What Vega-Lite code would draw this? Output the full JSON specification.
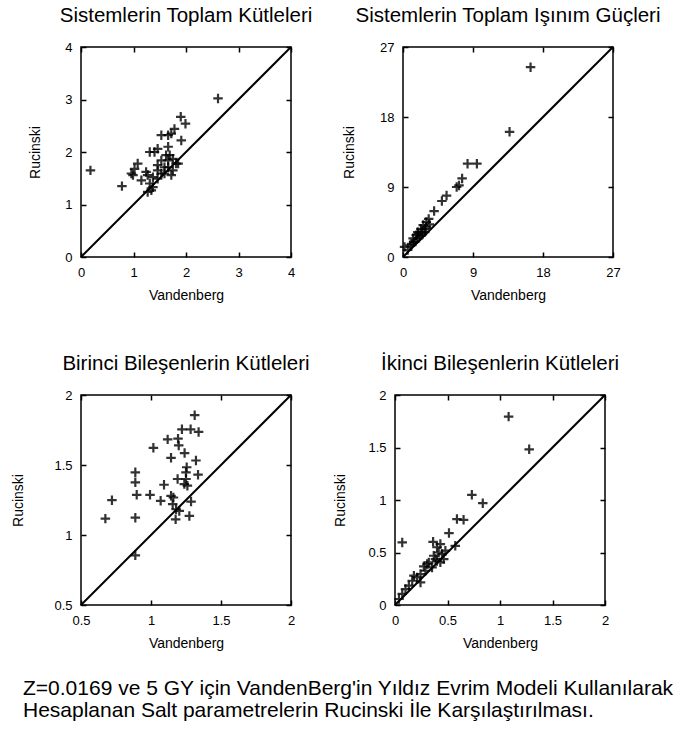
{
  "$schema": "https://vega.github.io/schema/vega-lite/v6.json",
  "background": "white",
  "padding": {"left": 11, "top": 4, "right": 0, "bottom": 0},
  "title": {
    "text": ["Z=0.0169 ve 5 GY için VandenBerg'in Yıldız Evrim Modeli Kullanılarak", "Hesaplanan Salt parametrelerin Rucinski İle Karşılaştırılması."],
    "orient": "bottom",
    "anchor": "start",
    "frame": "group",
    "fontSize": 21,
    "lineHeight": 22,
    "offset": 27,
    "dx": -58
  },
  "datasets": {
    "toplamKutle": [
      {"v": 0.18, "r": 1.65}, {"v": 0.78, "r": 1.35}, {"v": 2.61, "r": 3.02}, {"v": 1.9, "r": 2.67},
      {"v": 1.99, "r": 2.54}, {"v": 1.91, "r": 2.22}, {"v": 1.66, "r": 2.32}, {"v": 1.72, "r": 2.35},
      {"v": 1.53, "r": 2.32}, {"v": 1.78, "r": 2.44}, {"v": 1.46, "r": 2.06}, {"v": 1.31, "r": 2.0},
      {"v": 1.4, "r": 2.0}, {"v": 1.66, "r": 2.1}, {"v": 1.62, "r": 1.94}, {"v": 1.69, "r": 1.94},
      {"v": 1.53, "r": 1.84}, {"v": 1.66, "r": 1.84}, {"v": 1.75, "r": 1.87}, {"v": 1.46, "r": 1.75},
      {"v": 1.59, "r": 1.71}, {"v": 1.08, "r": 1.78}, {"v": 1.02, "r": 1.68}, {"v": 0.96, "r": 1.59},
      {"v": 0.99, "r": 1.56}, {"v": 1.15, "r": 1.46}, {"v": 1.24, "r": 1.62}, {"v": 1.27, "r": 1.56},
      {"v": 1.37, "r": 1.52}, {"v": 1.46, "r": 1.49}, {"v": 1.31, "r": 1.4}, {"v": 1.37, "r": 1.33},
      {"v": 1.34, "r": 1.27}, {"v": 1.27, "r": 1.24}, {"v": 1.72, "r": 1.56}, {"v": 1.75, "r": 1.65},
      {"v": 1.85, "r": 1.78}, {"v": 1.53, "r": 1.59}, {"v": 1.66, "r": 1.71}, {"v": 1.59, "r": 1.59},
      {"v": 1.46, "r": 1.65}, {"v": 1.81, "r": 1.78}
    ],
    "isinimGucu": [
      {"v": 16.4, "r": 24.4}, {"v": 13.7, "r": 16.1}, {"v": 8.3, "r": 12.0}, {"v": 9.5, "r": 12.0},
      {"v": 7.6, "r": 10.1}, {"v": 6.9, "r": 9.0}, {"v": 7.2, "r": 9.2}, {"v": 5.6, "r": 7.9},
      {"v": 5.0, "r": 7.2}, {"v": 4.0, "r": 5.9}, {"v": 3.3, "r": 4.9}, {"v": 3.0, "r": 4.5},
      {"v": 2.6, "r": 4.1}, {"v": 2.3, "r": 3.6}, {"v": 2.8, "r": 3.6}, {"v": 1.9, "r": 3.2},
      {"v": 2.4, "r": 3.2}, {"v": 1.7, "r": 2.8}, {"v": 2.2, "r": 2.7}, {"v": 1.3, "r": 2.4},
      {"v": 1.6, "r": 2.0}, {"v": 1.1, "r": 1.7}, {"v": 0.9, "r": 1.5}, {"v": 0.2, "r": 1.3},
      {"v": 0.6, "r": 0.9}, {"v": 2.8, "r": 3.2}, {"v": 3.0, "r": 3.9}, {"v": 1.9, "r": 2.4},
      {"v": 2.0, "r": 3.0}, {"v": 2.5, "r": 2.9}, {"v": 1.4, "r": 1.9}, {"v": 3.4, "r": 4.2}
    ],
    "birinciKutle": [
      {"v": 1.312, "r": 1.856}, {"v": 1.221, "r": 1.755}, {"v": 1.283, "r": 1.755}, {"v": 1.34, "r": 1.736},
      {"v": 1.119, "r": 1.683}, {"v": 1.193, "r": 1.688}, {"v": 1.198, "r": 1.64}, {"v": 1.017, "r": 1.623},
      {"v": 1.24, "r": 1.585}, {"v": 1.143, "r": 1.551}, {"v": 1.321, "r": 1.532}, {"v": 1.255, "r": 1.484},
      {"v": 1.25, "r": 1.448}, {"v": 1.336, "r": 1.431}, {"v": 0.888, "r": 1.448}, {"v": 0.888, "r": 1.376},
      {"v": 1.19, "r": 1.4}, {"v": 1.25, "r": 1.4}, {"v": 1.238, "r": 1.364}, {"v": 1.26, "r": 1.352},
      {"v": 1.093, "r": 1.359}, {"v": 0.898, "r": 1.287}, {"v": 0.993, "r": 1.287}, {"v": 0.721, "r": 1.249},
      {"v": 1.069, "r": 1.244}, {"v": 1.143, "r": 1.28}, {"v": 1.16, "r": 1.268}, {"v": 1.286, "r": 1.239},
      {"v": 1.155, "r": 1.22}, {"v": 1.179, "r": 1.184}, {"v": 1.202, "r": 1.172}, {"v": 1.176, "r": 1.112},
      {"v": 1.274, "r": 1.136}, {"v": 0.674, "r": 1.117}, {"v": 0.888, "r": 1.124}, {"v": 0.888, "r": 0.855}
    ],
    "ikinciKutle": [
      {"v": 1.082, "r": 1.794}, {"v": 1.278, "r": 1.483}, {"v": 0.732, "r": 1.049}, {"v": 0.836, "r": 0.97},
      {"v": 0.59, "r": 0.818}, {"v": 0.653, "r": 0.811}, {"v": 0.514, "r": 0.685}, {"v": 0.069, "r": 0.596},
      {"v": 0.363, "r": 0.602}, {"v": 0.432, "r": 0.58}, {"v": 0.574, "r": 0.564}, {"v": 0.4, "r": 0.55},
      {"v": 0.416, "r": 0.5}, {"v": 0.369, "r": 0.469}, {"v": 0.448, "r": 0.485}, {"v": 0.464, "r": 0.437},
      {"v": 0.322, "r": 0.406}, {"v": 0.353, "r": 0.358}, {"v": 0.274, "r": 0.368}, {"v": 0.29, "r": 0.326},
      {"v": 0.243, "r": 0.295}, {"v": 0.211, "r": 0.263}, {"v": 0.164, "r": 0.231}, {"v": 0.132, "r": 0.184},
      {"v": 0.1, "r": 0.152}, {"v": 0.069, "r": 0.105}, {"v": 0.038, "r": 0.057}, {"v": 0.18, "r": 0.279},
      {"v": 0.306, "r": 0.39}, {"v": 0.385, "r": 0.437}, {"v": 0.432, "r": 0.406}, {"v": 0.243, "r": 0.215},
      {"v": 0.4, "r": 0.42}, {"v": 0.48, "r": 0.517}
    ]
  },
  "bounds": "flush",
  "spacing": 348,
  "vconcat": [
    {
      "bounds": "flush",
      "spacing": 112,
      "hconcat": [
        {
          "title": "Sistemlerin Toplam Kütleleri",
          "width": 210, "height": 210,
          "layer": [
            {
              "data": {"values": [{"lo": 0, "hi": 4}]},
              "mark": {"type": "rule", "color": "black", "strokeWidth": 2},
              "encoding": {
                "x": {"field": "lo", "type": "quantitative", "scale": {"domain": [0, 4], "nice": false},
                      "axis": {"orient": "top", "values": [0, 1, 2, 3, 4], "labels": false, "title": null}},
                "x2": {"field": "hi"},
                "y": {"field": "lo", "type": "quantitative", "scale": {"domain": [0, 4], "nice": false},
                      "axis": {"orient": "right", "values": [0, 1, 2, 3, 4], "labels": false, "title": null}},
                "y2": {"field": "hi"}
              }
            },
            {
              "data": {"name": "toplamKutle"},
              "mark": {"type": "point", "shape": "M-1,0L1,0M0,-1L0,1", "filled": false, "stroke": "black", "strokeWidth": 2.2, "size": 90, "opacity": 0.8},
              "encoding": {
                "x": {"field": "v", "type": "quantitative", "scale": {"domain": [0, 4], "nice": false},
                      "axis": {"values": [0, 1, 2, 3, 4], "title": "Vandenberg"}},
                "y": {"field": "r", "type": "quantitative", "scale": {"domain": [0, 4], "nice": false},
                      "axis": {"values": [0, 1, 2, 3, 4], "title": "Rucinski", "titlePadding": 22}}
              }
            }
          ],
          "resolve": {"axis": {"x": "independent", "y": "independent"}}
        },
        {
          "title": "Sistemlerin Toplam Işınım Güçleri",
          "width": 210, "height": 210,
          "layer": [
            {
              "data": {"values": [{"lo": 0, "hi": 27}]},
              "mark": {"type": "rule", "color": "black", "strokeWidth": 2},
              "encoding": {
                "x": {"field": "lo", "type": "quantitative", "scale": {"domain": [0, 27], "nice": false},
                      "axis": {"orient": "top", "values": [0, 9, 18, 27], "labels": false, "title": null}},
                "x2": {"field": "hi"},
                "y": {"field": "lo", "type": "quantitative", "scale": {"domain": [0, 27], "nice": false},
                      "axis": {"orient": "right", "values": [0, 9, 18, 27], "labels": false, "title": null}},
                "y2": {"field": "hi"}
              }
            },
            {
              "data": {"name": "isinimGucu"},
              "mark": {"type": "point", "shape": "M-1,0L1,0M0,-1L0,1", "filled": false, "stroke": "black", "strokeWidth": 2.2, "size": 90, "opacity": 0.8},
              "encoding": {
                "x": {"field": "v", "type": "quantitative", "scale": {"domain": [0, 27], "nice": false},
                      "axis": {"values": [0, 9, 18, 27], "title": "Vandenberg"}},
                "y": {"field": "r", "type": "quantitative", "scale": {"domain": [0, 27], "nice": false},
                      "axis": {"values": [0, 9, 18, 27], "title": "Rucinski", "titlePadding": 23}}
              }
            }
          ],
          "resolve": {"axis": {"x": "independent", "y": "independent"}}
        }
      ]
    },
    {
      "bounds": "flush",
      "spacing": 104,
      "hconcat": [
        {
          "title": "Birinci Bileşenlerin Kütleleri",
          "width": 210, "height": 210,
          "layer": [
            {
              "data": {"values": [{"lo": 0.5, "hi": 2}]},
              "mark": {"type": "rule", "color": "black", "strokeWidth": 2},
              "encoding": {
                "x": {"field": "lo", "type": "quantitative", "scale": {"domain": [0.5, 2], "nice": false, "zero": false},
                      "axis": {"orient": "top", "values": [0.5, 1, 1.5, 2], "labels": false, "title": null}},
                "x2": {"field": "hi"},
                "y": {"field": "lo", "type": "quantitative", "scale": {"domain": [0.5, 2], "nice": false, "zero": false},
                      "axis": {"orient": "right", "values": [0.5, 1, 1.5, 2], "labels": false, "title": null}},
                "y2": {"field": "hi"}
              }
            },
            {
              "data": {"name": "birinciKutle"},
              "mark": {"type": "point", "shape": "M-1,0L1,0M0,-1L0,1", "filled": false, "stroke": "black", "strokeWidth": 2.2, "size": 90, "opacity": 0.8},
              "encoding": {
                "x": {"field": "v", "type": "quantitative", "scale": {"domain": [0.5, 2], "nice": false, "zero": false},
                      "axis": {"values": [0.5, 1, 1.5, 2], "title": "Vandenberg"}},
                "y": {"field": "r", "type": "quantitative", "scale": {"domain": [0.5, 2], "nice": false, "zero": false},
                      "axis": {"values": [0.5, 1, 1.5, 2], "title": "Rucinski", "titlePadding": 28}}
              }
            }
          ],
          "resolve": {"axis": {"x": "independent", "y": "independent"}}
        },
        {
          "title": "İkinci Bileşenlerin Kütleleri",
          "width": 210, "height": 210,
          "layer": [
            {
              "data": {"values": [{"lo": 0, "hi": 2}]},
              "mark": {"type": "rule", "color": "black", "strokeWidth": 2},
              "encoding": {
                "x": {"field": "lo", "type": "quantitative", "scale": {"domain": [0, 2], "nice": false},
                      "axis": {"orient": "top", "values": [0, 0.5, 1, 1.5, 2], "labels": false, "title": null}},
                "x2": {"field": "hi"},
                "y": {"field": "lo", "type": "quantitative", "scale": {"domain": [0, 2], "nice": false},
                      "axis": {"orient": "right", "values": [0, 0.5, 1, 1.5, 2], "labels": false, "title": null}},
                "y2": {"field": "hi"}
              }
            },
            {
              "data": {"name": "ikinciKutle"},
              "mark": {"type": "point", "shape": "M-1,0L1,0M0,-1L0,1", "filled": false, "stroke": "black", "strokeWidth": 2.2, "size": 90, "opacity": 0.8},
              "encoding": {
                "x": {"field": "v", "type": "quantitative", "scale": {"domain": [0, 2], "nice": false},
                      "axis": {"values": [0, 0.5, 1, 1.5, 2], "title": "Vandenberg"}},
                "y": {"field": "r", "type": "quantitative", "scale": {"domain": [0, 2], "nice": false},
                      "axis": {"values": [0, 0.5, 1, 1.5, 2], "title": "Rucinski", "titlePadding": 20}}
              }
            }
          ],
          "resolve": {"axis": {"x": "independent", "y": "independent"}}
        }
      ]
    }
  ],
  "config": {
    "font": "Liberation Sans",
    "view": {"stroke": "black", "strokeWidth": 1.5},
    "title": {"fontSize": 20.5, "fontWeight": "normal", "color": "black", "offset": 15, "frame": "group"},
    "axis": {
      "grid": false,
      "domain": false,
      "tickSize": -5,
      "tickColor": "black",
      "tickWidth": 1.5,
      "labelPadding": 14,
      "labelFontSize": 13,
      "labelColor": "black",
      "labelFont": "Liberation Sans",
      "labelFlush": false,
      "labelOverlap": false,
      "format": "~g",
      "titleFontSize": 14,
      "titleFontWeight": "normal",
      "titleColor": "black",
      "titleFont": "Liberation Sans",
      "titlePadding": 9
    }
  }
}
